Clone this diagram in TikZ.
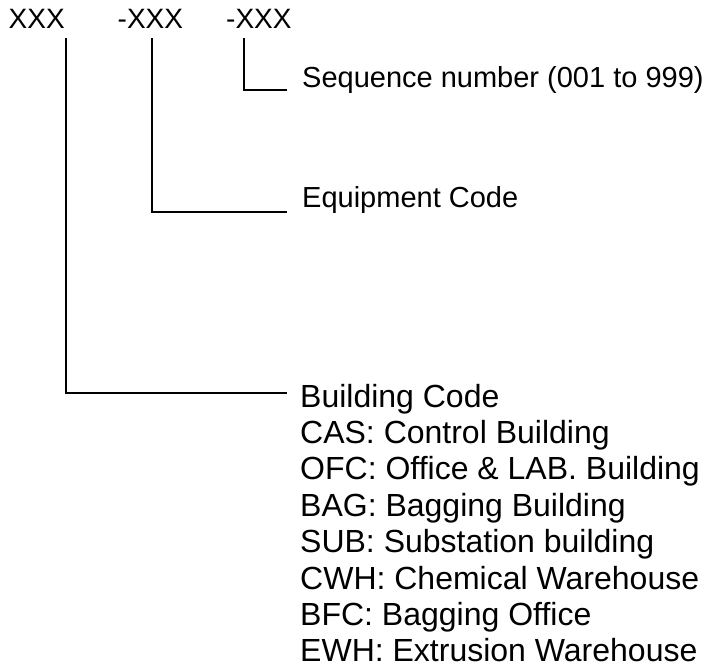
\documentclass[tikz,border=0pt]{standalone}
\usepackage{fontspec}
\setmainfont{Liberation Sans}
\begin{document}
\begin{tikzpicture}[x=1pt,y=-1pt,
  code/.style={anchor=base west,inner sep=0pt,font=\fontsize{28}{32}\selectfont},
  lbl/.style={anchor=base west,inner sep=0pt,font=\fontsize{29}{33}\selectfont},
  blk/.style={anchor=north west,inner sep=0pt,align=left,font=\fontsize{32}{36.4}\selectfont},
  conn/.style={draw=black,line width=2pt}]
\useasboundingbox (0,0) rectangle (708,670);
\node[code] (c1) at (8.5,28) {XXX};
\node[code] (c2) at (117.5,28) {-XXX};
\node[code] (c3) at (226,28) {-XXX};
\node[lbl] (seq) at (302,87) {Sequence number (001 to 999)};
\node[lbl] (eq) at (302,207.5) {Equipment Code};
\node[blk] (bc) at (300,383.6) {Building Code\\
CAS: Control Building\\
OFC: Office \& LAB. Building\\
BAG: Bagging Building\\
SUB: Substation building\\
CWH: Chemical Warehouse\\
BFC: Bagging Office\\
EWH: Extrusion Warehouse};
\coordinate (t1) at (66,38);
\coordinate (t2) at (152,38);
\coordinate (t3) at (244,38);
\coordinate (e1) at (287,393);
\coordinate (e2) at (287,212);
\coordinate (e3) at (287,89.5);
\draw[conn] (t1) |- (e1);
\draw[conn] (t2) |- (e2);
\draw[conn] (t3) |- (e3);
\end{tikzpicture}
\end{document}
